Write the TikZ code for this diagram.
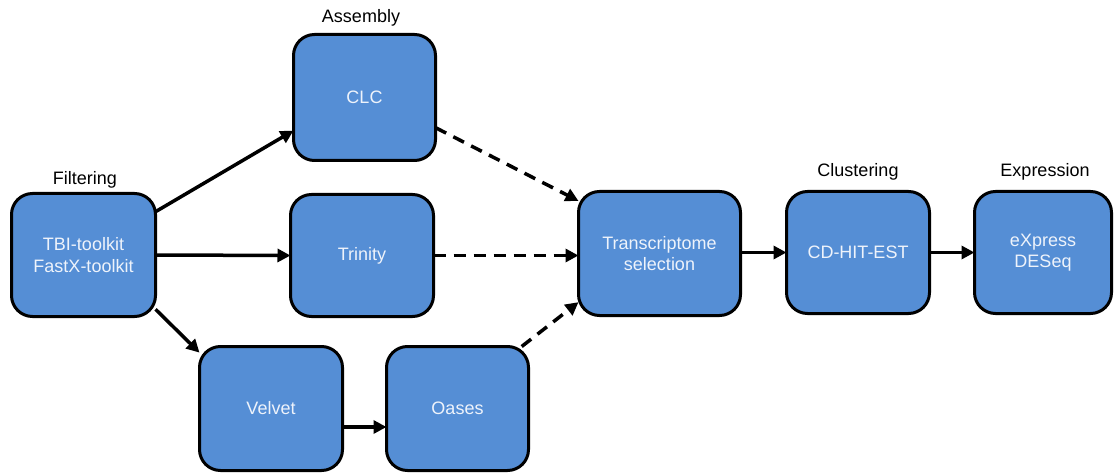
\documentclass[tikz,border=0pt]{standalone}
\usepackage{fontspec}
\setmainfont{Liberation Sans}
\usetikzlibrary{arrows.meta}
\definecolor{boxblue}{RGB}{85,142,213}
\definecolor{boxtext}{RGB}{238,243,251}
\begin{document}
\begin{tikzpicture}[x=1pt,y=-1pt,
  stage/.style={draw=black, line width=3pt, fill=boxblue, rounded corners=21pt,
    text=boxtext, align=center, inner sep=0pt, outer sep=0pt,
    font=\fontsize{18}{21.5}\selectfont},
  caption/.style={font=\fontsize{18}{21.5}\selectfont, inner sep=0pt},
  flow/.style={line width=3.5pt, -{Triangle[length=13pt,width=13pt]}},
  maybe/.style={flow, dash pattern=on 12pt off 8pt}]
\useasboundingbox (0,0) rectangle (1114,473);

% processing stages
\node[stage, minimum width=144pt, minimum height=123pt] (filt) at (83.5,255) {TBI-toolkit\\FastX-toolkit};
\node[stage, minimum width=142pt, minimum height=126pt] (clc) at (364.5,97.5) {CLC};
\node[stage, minimum width=143pt, minimum height=122pt] (trin) at (362,255.5) {Trinity};
\node[stage, minimum width=143pt, minimum height=124pt] (velv) at (271,408.5) {Velvet};
\node[stage, minimum width=142pt, minimum height=124pt] (oas) at (457.5,408.5) {Oases};
\node[stage, minimum width=162pt, minimum height=124pt] (sel) at (659.5,253.5) {Transcriptome\\selection};
\node[stage, minimum width=143pt, minimum height=122pt] (cdhit) at (858,252.5) {CD-HIT-EST};
\node[stage, minimum width=137pt, minimum height=122pt] (expr) at (1043,252.5) {eXpress\\DESeq};

% step captions
\node[caption] (capf) at (85,180) {Filtering};
\node[caption] (capa) at (361,18) {Assembly};
\node[caption] (capc) at (858,172) {Clustering};
\node[caption] (cape) at (1045,172) {Expression};

% connectors
\draw[flow] (filt.31) -- (clc.205);
\draw[flow] (filt.east) -- (trin.west);
\draw[flow] (filt.-37) -- (velv.142);
\draw[flow] ([yshift=-18.5pt]velv.east) -- ([yshift=-18.5pt]oas.west);
\draw[maybe] (clc.-23) -- (sel.147);
\draw[maybe] (trin.east) -- (trin.east -| sel.west);
\draw[maybe] (oas.44) -- (sel.211);
\draw[flow] (sel.east |- cdhit.west) -- (cdhit.west);
\draw[flow] (cdhit.east) -- (expr.west);
\end{tikzpicture}
\end{document}
